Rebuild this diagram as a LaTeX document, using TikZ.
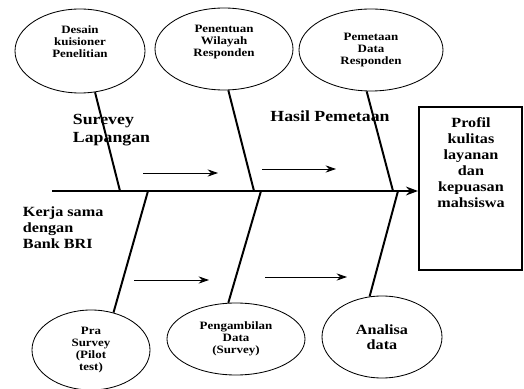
\documentclass[tikz,border=0pt]{standalone}
\usepackage{fontspec}
\setmainfont{Liberation Serif}[FakeStretch=1.15]
\usetikzlibrary{shapes.geometric,arrows.meta}
\tikzstyle{cause} = [ellipse, draw=black, line width=0.6pt, inner sep=0pt, align=center, font=\bfseries\fontsize{8}{8.5}\selectfont]
\tikzstyle{effect} = [rectangle, draw=black, line width=1.4pt, minimum width=25.75mm, minimum height=40.75mm]
\tikzstyle{boxtext} = [align=center, font=\bfseries\fontsize{10}{11.4}\selectfont]
\tikzstyle{lbl} = [align=left, font=\bfseries\fontsize{11}{12.8}\selectfont]
\tikzstyle{lblsmall} = [align=left, font=\bfseries\fontsize{10}{11.4}\selectfont]
\tikzstyle{spine} = [line width=2.1pt, -{Stealth[length=3mm,width=2.2mm]}]
\tikzstyle{bone} = [line width=1.4pt]
\tikzstyle{flow} = [line width=0.6pt, -{Stealth[length=2.6mm,width=1.8mm]}]

\begin{document}
\begin{tikzpicture}[x=0.25mm, y=-0.25mm]
\useasboundingbox (0,0) rectangle (524,389);

\node (desain) [cause, minimum width=32.5mm, minimum height=21mm] at (80,51) {Desain\\kuisioner\\Penelitian\\[5.5pt]\mbox{}};
\node (wilayah) [cause, minimum width=34.5mm, minimum height=20.5mm] at (224,49) {Penentuan\\Wilayah\\Responden\\[3pt]\mbox{}};
\node (pemetaan) [cause, minimum width=36mm, minimum height=20.5mm] at (371,50) {Pemetaan\\Data\\Responden};
\node (pra) [cause, minimum width=29.5mm, minimum height=20mm] at (91,350) {Pra\\Survey\\(Pilot\\test)};
\node (ambil) [cause, minimum width=34.5mm, minimum height=18mm] at (236,339) {Pengambilan\\Data\\(Survey)};
\node (analisa) [cause, minimum width=30mm, minimum height=20.5mm, font=\bfseries\fontsize{10}{10.6}\selectfont] at (382,337) {Analisa\\data};

\node (prof) [effect] at (470.5,188.5) {};
\node (proftext) [boxtext] at (471,163) {Profil\\kulitas\\layanan\\dan\\kepuasan\\mahsiswa};

\node (survey) [lbl, anchor=west] at (68,130) {Surevey\\Lapangan};
\node (hasil) [lbl] at (330,116) {Hasil Pemetaan};
\node (kerja) [lblsmall, anchor=west] at (18,228) {Kerja sama\\dengan\\Bank BRI};

\coordinate (tail) at (52,191);
\coordinate (j1) at (120,191);
\coordinate (j2) at (254,191);
\coordinate (j3) at (393,191);
\coordinate (j4) at (148,191);
\coordinate (j5) at (261,191);
\coordinate (j6) at (398,191);

\draw [spine] (tail) -- (tail -| prof.west);
\draw [bone] (desain.-70) -- (j1);
\draw [bone] (wilayah.-84) -- (j2);
\draw [bone] (pemetaan.-96) -- (j3);
\draw [bone] (j4) -- (pra.59);
\draw [bone] (j5) -- (ambil.102);
\draw [bone] (j6) -- (analisa.107);

\coordinate (f1) at (143,173);
\coordinate (f1e) at (218,173);
\coordinate (f2) at (262,169);
\coordinate (f2e) at (336,169);
\coordinate (f3) at (134,280);
\coordinate (f3e) at (209,280);
\coordinate (f4) at (265,277);
\coordinate (f4e) at (347,277);
\draw [flow] (f1) -- (f1e);
\draw [flow] (f2) -- (f2e);
\draw [flow] (f3) -- (f3e);
\draw [flow] (f4) -- (f4e);

\end{tikzpicture}
\end{document}
